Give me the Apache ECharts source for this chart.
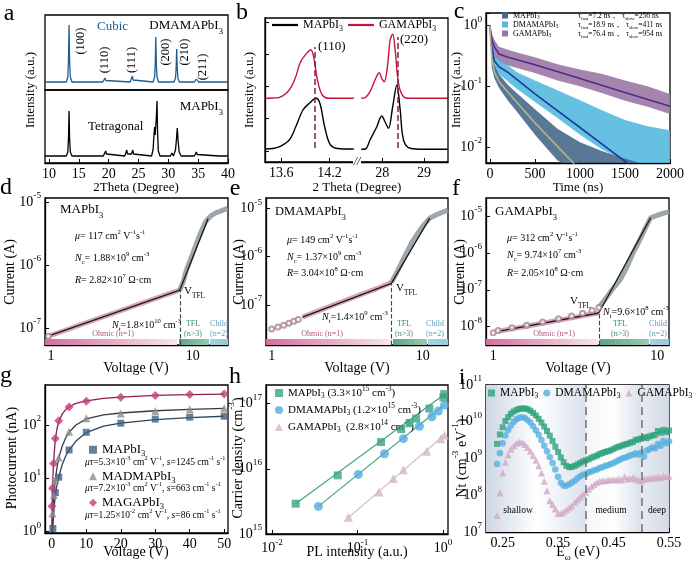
<!DOCTYPE html>
<html><head><meta charset="utf-8">
<script src="https://cdn.jsdelivr.net/npm/echarts@6/dist/echarts.min.js"></script>
<style>html,body{margin:0;padding:0;background:#fff}#c{width:700px;height:561px}</style>
</head><body><div id="c"></div>
<script>
// ---------------- DATA ----------------
const aCubic = [[9.33,0],[12.9,0],[13.15,5],[13.27,22],[13.36,57],[13.45,22],[13.57,5],[13.85,0],[19.0,0],[19.28,1.5],[19.4,4],[19.52,1.5],[19.8,0],[23.6,0],[23.86,2],[23.98,6],[24.1,2],[24.4,0],[27.45,0],[27.7,5],[27.81,18],[27.9,45],[27.99,18],[28.1,5],[28.35,0],[30.95,0],[31.2,4],[31.31,14],[31.4,33],[31.49,14],[31.6,4],[31.85,0],[34.35,0],[34.58,1.2],[34.7,3],[34.82,1.2],[35.05,0],[40,0]];
const aTetra = [[9.33,0],[12.9,0],[13.15,4],[13.27,18],[13.36,45],[13.45,18],[13.57,4],[13.85,0],[19.1,0],[19.38,2],[19.5,5],[19.62,2],[19.9,0],[22.7,0],[22.92,2],[23.04,6],[23.16,2],[23.45,1],[23.82,2],[24.05,6],[24.17,2],[24.45,0],[27.2,0],[27.45,7],[27.58,20],[27.7,29],[27.8,21],[27.9,22],[28.0,40],[28.1,55],[28.2,24],[28.32,5],[28.6,0],[30.35,0],[30.5,1.5],[30.6,3],[30.7,1.5],[30.85,0],[31.0,0],[31.2,6],[31.35,16],[31.5,28],[31.65,14],[31.82,4],[32.15,0],[34.35,0],[34.58,1.5],[34.7,4],[34.82,1.5],[35.05,0],[38.5,0],[38.7,1],[38.9,0],[40,0]];
const aXTicks = [10,15,20,25,30,35,40];
const bMA_L = [[13.4,13],[13.5,13.5],[13.58,15.3],[13.7,22],[13.78,35],[13.87,52],[13.95,58.7],[14.03,63.7],[14.08,58.7],[14.14,35],[14.2,18.7],[14.28,13.7],[14.4,13],[14.5,13]];
const bGA_L = [[13.4,63.7],[13.5,64],[13.58,64.7],[13.7,72],[13.78,85],[13.84,100],[13.93,110],[13.97,112],[14.01,102],[14.05,82],[14.11,67],[14.2,63.7],[14.35,63.7],[14.5,63.7]];
const bMA_R = [[27.5,12.7],[27.6,13],[27.71,22],[27.87,35],[27.99,46],[28.07,40],[28.15,33.7],[28.25,55],[28.35,77],[28.43,52],[28.51,22],[28.67,13.7],[29.0,12.7],[29.57,12.7]];
const bGA_R = [[27.5,63.7],[27.6,64.5],[27.71,70.3],[27.83,82],[27.93,89.3],[27.99,83.7],[28.05,80.3],[28.13,97],[28.19,122],[28.25,127.7],[28.31,112],[28.39,78.7],[28.51,65.3],[28.67,63.7],[29.0,63.7],[29.57,63.7]];
const bXTicksL = [13.6,14.2];
const bXTicksR = [28,29];
const bYTicks = [11,44,76,108,140];
const bRef = [14.02, 28.36];
const cT = [0,20,50,100,200,300,500,750,1000,1250,1500,1750,2000];
const cGA_hi = [1.0,0.75,0.58,0.45,0.40,0.36,0.30,0.23,0.19,0.16,0.125,0.10,0.075];
const cGA_lo = [0.92,0.40,0.31,0.25,0.22,0.20,0.165,0.125,0.10,0.077,0.058,0.046,0.035];
const cDM_hi = [1.0,0.55,0.33,0.27,0.22,0.17,0.125,0.086,0.059,0.040,0.028,0.022,0.019];
const cDM_lo = [0.9,0.30,0.19,0.16,0.12,0.09,0.055,0.030,0.016,0.009,0.006,0.004,0.004];
const cMA_hi = [1.0,0.40,0.22,0.16,0.105,0.077,0.042,0.020,0.012,0.0085,0.0065,0.005,0.004];
const cMA_lo = [0.85,0.20,0.135,0.095,0.058,0.038,0.016,0.006,0.004,0.004,0.004,0.004,0.004];
const cFitT = [0,10,20,50,100,200,500,1000,1500,2000];
const cGA_fit = [1.0,0.75,0.60,0.44,0.34,0.30,0.226,0.134,0.079,0.047];
const cDM_fit = [1.0,0.6,0.45,0.26,0.21,0.17,0.075,0.021,0.0058,0.0016];
const cMA_fit = [1.0,0.5,0.3,0.17,0.12,0.08,0.025,0.0042,0.0007,0.0001];
const cYTicks = [0.01,0.1,1];
const dCircV = [0.96], dCircI = [7.4e-8];
const dOhmV = [0.96,1.2,1.5,2,3,4,5,6,7,8.1];
const dOhmI = [7.4e-8,8.8e-8,1.06e-7,1.33e-7,1.83e-7,2.3e-7,2.75e-7,3.17e-7,3.58e-7,4.0e-7];
const dTflV = [8.1,8.6,9.0,9.8,10.6,11.4,12.2,12.8,13.4,14.5,15.5,16.5,17.6];
const dTflI = [4.0e-7,5.6e-7,8.3e-7,1.35e-6,2.2e-6,3.3e-6,4.7e-6,5.4e-6,6.0e-6,6.7e-6,7.1e-6,7.5e-6,7.9e-6];
const dFitV = [1,8.1,12.8], dFitI = [7.7e-8,4.0e-7,5.4e-6];
const dVtfl = 8.1;
const eCircV = [1.0,1.1,1.2,1.3,1.4,1.5];
const eCircI = [3.2e-8,3.5e-8,3.8e-8,4.2e-8,4.6e-8,5.0e-8];
const eOhmV = [1.6,2,2.5,3,4,5,6.2];
const eOhmI = [5.6e-8,7.4e-8,9.7e-8,1.2e-7,1.7e-7,2.2e-7,2.9e-7];
const eTflV = [6.2,7.0,7.8,8.5,9.3,10.2,11.1,12.5,14.7];
const eTflI = [2.9e-7,6.0e-7,1.2e-6,2.0e-6,3.1e-6,4.6e-6,6.2e-6,7.5e-6,9.2e-6];
const eFitV = [1.6,6.2,11.1], eFitI = [5.6e-8,2.8e-7,6.2e-6];
const eVtfl = 6.2;
const fCircV = [1.0,1.07,1.3,1.6,2.0,2.5,3.0,3.5,4.0,4.4];
const fCircI = [6.8e-9,7.9e-9,9.3e-9,1.1e-8,1.35e-8,1.65e-8,1.95e-8,2.3e-8,2.75e-8,3.3e-8];
const fOhmV = [1.07,1.5,2,2.5,3,3.5,4,4.4];
const fOhmI = [7.5e-9,9.8e-9,1.24e-8,1.49e-8,1.73e-8,1.97e-8,2.2e-8,2.35e-8];
const fTflV = [4.4,4.8,5.3,5.95,6.5,7.17,7.8,8.45,9.1,10.0,11.0,11.8];
const fTflI = [3.3e-8,5.5e-8,1.0e-7,1.9e-7,4.0e-7,1.07e-6,2.2e-6,4.7e-6,8.9e-6,1.05e-5,1.2e-5,1.3e-5];
const fFitV = [1.07,4.4,9.1], fFitI = [7.5e-9,2.35e-8,8.9e-6];
const fVtfl = 4.4;
const gV_MA = [0.3,1,2,5,10,20,30,40,50];
const gI_MA = [1.15,5.4,10.5,34,73,108,129,140,146];
const gV_DM = [0.2,0.6,1,2,5,10,20,30,40,50];
const gI_DM = [2.2,4.9,9.3,24.5,75,134,165,183,198,205];
const gV_GA = [0.05,0.2,0.5,1,2,5,10,20,30,40,50];
const gI_GA = [3.0,6.5,19,56,120,218,280,333,359,373,380];
const gFitV_MA = [0.25,0.4,0.7,1,1.5,2,3,4,5,7,10,15,20,30,40,50];
const gFit_MA = [1.0,1.5,3.0,4.8,7.5,10.5,18,26,34,50,72,95,108,126,138,146];
const gFitV_DM = [0.05,0.2,0.4,0.7,1,1.5,2,3,4,5,7,10,15,20,30,40,50];
const gFit_DM = [1.0,2.0,3.5,6.0,9.3,16,24,40,57,73,100,130,155,168,185,197,205];
const gFitV_GA = [0.02,0.1,0.2,0.4,0.7,1,1.5,2,3,4,5,7,10,15,20,30,40,50];
const gFit_GA = [1.0,3.2,6.5,14,30,52,85,115,160,195,220,255,282,315,333,358,372,380];
const hMA_X = [0.0189,0.0586,0.188,0.323,0.404,0.483,0.691,1.008,1.03];
const hMA_Y = [2.92e15,7.94e15,2.57e16,4.07e16,5.0e16,5.9e16,8.4e16,1.24e17,1.4e17];
const hDM_X = [0.0348,0.102,0.206,0.343,0.528,0.738,0.881,1.035];
const hDM_Y = [2.65e15,8.2e15,1.7e16,2.9e16,4.5e16,6.3e16,7.7e16,9.5e16];
const hGA_X = [0.078,0.178,0.262,0.343,0.644,0.94,1.035];
const hGA_Y = [1.81e15,4.4e15,7.1e15,9.7e15,1.86e16,2.9e16,3.3e16];
const hFitMA_X = [0.0189,1.03], hFitMA_Y = [2.9e15,1.38e17];
const hFitDM_X = [0.0348,1.035], hFitDM_Y = [2.65e15,9.6e16];
const hFitGA_X = [0.078,1.035], hFitGA_Y = [1.78e15,3.3e16];
const iE = [0.240,0.245,0.250,0.255,0.260,0.265,0.270,0.275,0.280,0.285,0.290,0.295,0.300,0.305,0.310,0.315,0.320,0.325,0.330,0.335,0.340,0.345,0.350,0.355,0.360,0.365,0.370,0.375,0.380,0.385,0.390,0.395,0.400,0.405,0.410,0.415,0.420,0.425,0.430,0.435,0.440,0.445,0.450,0.455,0.460,0.465,0.470,0.475,0.480,0.485,0.490,0.495,0.500,0.505,0.510,0.515,0.520,0.525,0.530,0.535,0.540,0.545,0.550];
const iMA = [2.5e9,4.5e9,7.1e9,1.05e10,1.35e10,1.66e10,1.9e10,2.1e10,2.24e10,2.3e10,2.3e10,2.2e10,2.0e10,1.74e10,1.48e10,1.2e10,9.5e9,7.4e9,5.6e9,4.2e9,3.0e9,2.1e9,1.5e9,1.07e9,7.9e8,6.3e8,5.8e8,5.9e8,6.3e8,6.9e8,7.6e8,8.3e8,8.9e8,9.5e8,1.05e9,1.12e9,1.2e9,1.32e9,1.41e9,1.51e9,1.58e9,1.66e9,1.82e9,2.0e9,2.1e9,2.24e9,2.4e9,2.5e9,2.7e9,2.8e9,3.2e9,3.3e9,3.5e9,3.8e9,3.6e9,4.0e9,4.2e9,4.4e9,5.6e9,5.0e9,6.0e9,5.2e9,5.8e9];
const iDM = [7.1e8,1.4e9,2.6e9,4.2e9,6.0e9,7.9e9,1.0e10,1.17e10,1.29e10,1.32e10,1.26e10,1.12e10,9.5e9,7.6e9,5.9e9,4.4e9,3.2e9,2.24e9,1.58e9,1.1e9,7.6e8,5.0e8,3.2e8,2.2e8,1.8e8,1.8e8,2.0e8,2.24e8,2.5e8,2.9e8,3.3e8,3.6e8,3.8e8,4.2e8,4.4e8,4.8e8,5.0e8,5.5e8,5.8e8,6.3e8,6.6e8,7.1e8,7.6e8,8.3e8,9.1e8,1.0e9,1.05e9,1.12e9,1.2e9,1.26e9,1.38e9,1.26e9,1.45e9,1.12e9,1.66e9,1.78e9,2.0e9,1.9e9,2.5e9,2.24e9,3.0e9,2.6e9,2.9e9];
const iGA = [2.8e7,1.15e8,4.0e8,7.9e8,1.26e9,1.78e9,2.24e9,2.6e9,2.8e9,2.75e9,2.4e9,2.0e9,1.58e9,1.2e9,8.9e8,6.3e8,4.0e8,2.4e8,1.32e8,7.1e7,5.6e7,4.2e7,3.2e7,3.2e7,3.5e7,4.0e7,4.6e7,5.2e7,6.3e7,7.6e7,8.9e7,1.05e8,1.2e8,1.45e8,1.74e8,2.0e8,2.24e8,2.4e8,2.5e8,2.5e8,2.6e8,2.6e8,2.7e8,2.6e8,2.75e8,2.6e8,3.2e8,2.75e8,2.9e8,3.0e8,2.75e8,2.6e8,2.5e8,2.75e8,2.8e8,2.9e8,3.0e8,2.95e8,3.2e8,3.0e8,3.3e8,3.2e8,3.3e8];
const iXTicks = [0.25,0.35,0.45,0.55];
const iBounds = [0.40,0.50];

// ---------------- HELPERS ----------------
const F = "'Liberation Serif','Times New Roman',serif";
function R(fs){
  const sm = Math.round(fs*0.66*10)/10;
  return {
    u:{fontSize:sm,fontFamily:F,verticalAlign:'top',lineHeight:Math.round(fs*0.75)},
    s:{fontSize:sm,fontFamily:F,verticalAlign:'bottom',lineHeight:Math.round(fs*1.1)},
    i:{fontSize:fs,fontFamily:F,fontStyle:'italic',lineHeight:Math.round(fs*1.5)}
  };
}
function merge(a,b){
  for (const k in b){
    const v=b[k];
    if (v && typeof v==='object' && !Array.isArray(v) && typeof v!=='function' && a[k] && typeof a[k]==='object' && !Array.isArray(a[k])) merge(a[k],v);
    else a[k]=v;
  }
  return a;
}
const zip=(xs,ys)=>xs.map((x,k)=>[x,ys[k]]);
const isPow10=v=>{const l=Math.log10(v);return Math.abs(l-Math.round(l))<1e-6;};
const grids=[], xAxes=[], yAxes=[], series=[], legends=[], graphics=[];
function ax(o){
  return merge({
    type:'value',
    axisLine:{show:true,onZero:false,lineStyle:{color:'#000',width:1.3}},
    axisTick:{show:true,inside:true,length:4,lineStyle:{color:'#000',width:1}},
    axisLabel:{color:'#000',fontFamily:F,fontSize:14,margin:4},
    splitLine:{show:false}
  },o);
}
function addGrid(g,xo,yo){
  grids.push(merge({show:true,borderColor:'#000',borderWidth:1.3,backgroundColor:'rgba(0,0,0,0)'},g));
  const i=grids.length-1;
  xAxes.push(ax(merge({gridIndex:i,position:'bottom'},xo)));
  yAxes.push(ax(merge({gridIndex:i,position:'left'},yo)));
  return i;
}
function logLbl(showMin,showMax){
  return {formatter:v=>isPow10(v)?'10{u|'+Math.round(Math.log10(v))+'}':'',rich:R(14),lineHeight:21,showMinLabel:showMin,showMaxLabel:showMax};
}
function plainLbl(){ return {formatter:v=>isPow10(v)?String(Math.round(v)):'',showMinLabel:false,showMaxLabel:false}; }
function line(gi,name,data,color,width,extra){
  series.push(merge({type:'line',name:name,xAxisIndex:gi,yAxisIndex:gi,data:data,symbol:'none',silent:true,
    lineStyle:{color:color,width:width},itemStyle:{color:color},z:3},extra||{}));
}
function scat(gi,name,data,symbol,size,color,extra){
  series.push(merge({type:'scatter',name:name,xAxisIndex:gi,yAxisIndex:gi,data:data,symbol:symbol,symbolSize:size,silent:true,
    itemStyle:{color:color},z:4},extra||{}));
}
function band(gi,name,T,hi,lo,color){
  series.push({type:'custom',name:name,xAxisIndex:gi,yAxisIndex:gi,clip:true,silent:true,z:2,
    itemStyle:{color:color},data:[[T[0],hi[0]]],
    renderItem:(p,api)=>{
      const pts=[];
      for(let k=0;k<T.length;k++) pts.push(api.coord([T[k],hi[k]]));
      for(let k=T.length-1;k>=0;k--) pts.push(api.coord([T[k],lo[k]]));
      return {type:'polygon',shape:{points:pts},style:{fill:color,opacity:0.9}};
    }});
}
function T(x,y,text,o){
  o=o||{}; const fs=o.fs||12;
  return {type:'text',x:x,y:y,rotation:o.rot||0,z:100,silent:true,
    style:{text:text,fill:o.color||'#000',fontFamily:F,fontSize:fs,fontStyle:o.italic?'italic':'normal',
      fontWeight:o.bold?'bold':'normal',textAlign:o.align||'left',textVerticalAlign:'middle',
      align:o.align||'left',verticalAlign:'middle',lineHeight:Math.round(fs*1.5),rich:R(fs)}};
}
function rect(x,y,w,h,fill,stroke){
  return {type:'rect',shape:{x:x,y:y,width:w,height:h},z:90,silent:true,
    style:{fill:fill||'none',stroke:stroke||'none',lineWidth:1.3}};
}
const grad=(c0,c1)=>({type:'linear',x:0,y:0,x2:1,y2:0,colorStops:[{offset:0,color:c0},{offset:1,color:c1}]});
const LN = {
  bMA:'MAPbI{s|3}', bGA:'GAMAPbI{s|3}',
  cMA:'MAPbI{s|3}', cDM:'DMAMAPbI{s|3}', cGA:'GAMAPbI{s|3}',
  gMA:'MAPbI{s|3}', gDM:'MADMAPbI{s|3}', gGA:'MAGAPbI{s|3}',
  hMA:'MAPbI{s|3} (3.3×10{u|15} cm{u|-3})', hDM:'DMAMAPbI{s|3} (1.2×10{u|15} cm{u|-3})', hGA:'GAMAPbI{s|3}  (2.8×10{u|14} cm{u|-3})',
  iMA:'MAPbI{s|3}', iDM:'DMAMAPbI{s|3}', iGA:'GAMAPbI{s|3}'
};
function legend(o,fs,lh){
  legends.push(merge({padding:0,selectedMode:false,formatter:n=>LN[n],
    textStyle:{fontFamily:F,fontSize:fs,color:'#000',lineHeight:lh,rich:R(fs)}},o));
}
const ML = {symbol:['none','none'],silent:true,label:{show:false},lineStyle:{type:'dashed',color:'#7b2245',width:1.5}};

// ---------------- PANEL a ----------------
const GA1 = addGrid({left:45,top:15,width:183,height:75},{min:9.33,max:40,axisLabel:{show:false},axisTick:{show:false},axisLine:{show:false}},{min:-8,max:67,show:false});
const GA2 = addGrid({left:45,top:90,width:183,height:73},{min:9.33,max:40,axisLabel:{customValues:aXTicks},axisTick:{customValues:aXTicks}},{min:-7,max:66,show:false});
line(GA1,'aCub',aCubic,'#1d5d92',1.3);
line(GA2,'aTet',aTetra,'#000',1.3);

// ---------------- PANEL b ----------------
const GB1 = addGrid({left:265,top:18,width:92,height:144,show:false},
  {min:13.4,max:14.54,axisLabel:{customValues:bXTicksL},axisTick:{customValues:bXTicksL}},
  {min:0,max:144,axisLabel:{show:false},axisTick:{customValues:bYTicks}});
const GB2 = addGrid({left:357,top:18,width:91,height:144,show:false},
  {min:27.4,max:29.57,axisLabel:{customValues:bXTicksR},axisTick:{customValues:bXTicksR}},
  {min:0,max:144,show:false});
line(GB1,'bMA',bMA_L,'#000',1.4,{smooth:0.35,markLine:merge({data:[[{coord:[bRef[0],14]},{coord:[bRef[0],115]}]]},ML)});
line(GB1,'bGA',bGA_L,'#c8143c',1.4,{smooth:0.35});
line(GB2,'bMA_r',bMA_R,'#000',1.4,{smooth:0.35,markLine:merge({data:[[{coord:[bRef[1],14]},{coord:[bRef[1],125]}]]},ML)});
line(GB2,'bGA_r',bGA_R,'#c8143c',1.4,{smooth:0.35});
legend({left:272,top:17,icon:'rect',itemWidth:26,itemHeight:2.2,itemGap:5,data:['bMA','bGA']},12,16);

// ---------------- PANEL c ----------------
const GC = addGrid({left:486,top:13,width:184,height:150},{min:-44,max:2000,axisLabel:{showMinLabel:false,formatter:v=>v<0?'':String(v)}},
  {type:'log',min:0.00547,max:1.61,axisLabel:{show:false}});
band(GC,'cGA',cT,cGA_hi,cGA_lo,'#9b77a5');
band(GC,'cDM',cT,cDM_hi,cDM_lo,'#55b9df');
band(GC,'cMA',cT,cMA_hi,cMA_lo,'#47698a');
line(GC,'cGAfit',zip(cFitT,cGA_fit),'#55288a',1.6);
line(GC,'cDMfit',zip(cFitT,cDM_fit),'#1a3c9c',1.6);
line(GC,'cMAfit',zip(cFitT,cMA_fit),'#b3b48c',1.6);
legend({left:502,top:11,orient:'vertical',icon:'rect',itemWidth:6,itemHeight:6,itemGap:0,data:['cMA','cDM','cGA']},8,9);

// ---------------- PANELS d,e,f ----------------
const PINK='rgba(206,142,172,0.8)', GRAY='rgba(140,150,156,0.85)';
function sclc(gi,p,circ,ohm,tfl,fit,vt,ybot){
  line(gi,p+'ohm',ohm,PINK,5,{z:2});
  line(gi,p+'tfl',tfl,GRAY,5,{z:2});
  scat(gi,p+'circ',circ,'emptyCircle',5,'#a88596',{itemStyle:{borderWidth:1}});
  line(gi,p+'fit',fit,'#1a1a1a',1.3,{markLine:{data:[[{coord:[vt,ybot]},{coord:[vt,fit[1][1]]}]],
    symbol:['none','none'],silent:true,label:{show:false},lineStyle:{type:'dashed',color:'#2d4a44',width:1.1}}});
}
const GD = addGrid({left:45,top:198,width:183,height:147},{type:'log',min:0.908,max:17.7,axisLabel:plainLbl()},
  {type:'log',min:5.37e-8,max:1.156e-5,axisLabel:logLbl(false,false)});
sclc(GD,'d',zip(dCircV,dCircI),zip(dOhmV,dOhmI),zip(dTflV,dTflI),zip(dFitV,dFitI),dVtfl,5.37e-8);
const GE = addGrid({left:266,top:198,width:182,height:147},{type:'log',min:0.917,max:14.7,axisLabel:plainLbl()},
  {type:'log',min:1.49e-8,max:1.63e-5,axisLabel:logLbl(false,false)});
sclc(GE,'e',zip(eCircV,eCircI),zip(eOhmV,eOhmI),zip(eTflV,eTflI),zip(eFitV,eFitI),eVtfl,1.49e-8);
const GF = addGrid({left:486,top:198,width:183,height:147},{type:'log',min:0.903,max:11.78,axisLabel:plainLbl()},
  {type:'log',min:3.19e-9,max:3.08e-5,axisLabel:logLbl(false,false)});
sclc(GF,'f',zip(fCircV,fCircI),zip(fOhmV,fOhmI),zip(fTflV,fTflI),zip(fFitV,fFitI),fVtfl,3.19e-9);

// ---------------- PANEL g ----------------
const GG = addGrid({left:45,top:385,width:183,height:148},{min:-1.98,max:51.1,axisLabel:{showMinLabel:false,showMaxLabel:false}},
  {type:'log',min:0.946,max:562,axisLabel:logLbl(false,false)});
line(GG,'gMAfit',zip(gFitV_MA,gFit_MA),'#29465f',1.3);
line(GG,'gDMfit',zip(gFitV_DM,gFit_DM),'#3a3a3a',1.3);
line(GG,'gGAfit',zip(gFitV_GA,gFit_GA),'#8e1c50',1.3);
scat(GG,'gMA',zip(gV_MA,gI_MA),'rect',7,'#3f6283');
scat(GG,'gDM',zip(gV_DM,gI_DM),'triangle',8,'#8d8d8d');
scat(GG,'gGA',zip(gV_GA,gI_GA),'diamond',9,'#c33d7a');
legend({left:89,top:441,orient:'vertical',itemWidth:8,itemHeight:8,itemGap:9,data:['gMA','gDM','gGA']},13,17.5);

// ---------------- PANEL h ----------------
const GH = addGrid({left:266,top:385,width:182,height:149},{type:'log',min:0.0085,max:1.14,axisLabel:logLbl(false,false)},
  {type:'log',min:1e15,max:1.93e17,axisLabel:logLbl(true,false)});
line(GH,'hMAfit',zip(hFitMA_X,hFitMA_Y),'#45a48a',1.2);
line(GH,'hDMfit',zip(hFitDM_X,hFitDM_Y),'#45a48a',1.2);
line(GH,'hGAfit',zip(hFitGA_X,hFitGA_Y),'#d6bfcd',1.2);
scat(GH,'hMA',zip(hMA_X,hMA_Y),'rect',8,'#3aa37f');
scat(GH,'hDM',zip(hDM_X,hDM_Y),'circle',9,'#52aade');
scat(GH,'hGA',zip(hGA_X,hGA_Y),'triangle',9,'#d3b5c7');
legend({left:275,top:386,orient:'vertical',itemWidth:8,itemHeight:8,itemGap:3,data:['hMA','hDM','hGA']},11,14);

// ---------------- PANEL i ----------------
const GI = addGrid({left:486,top:385,width:183,height:147},
  {min:0.22,max:0.55,axisLabel:{customValues:iXTicks,formatter:v=>v.toFixed(2)},axisTick:{customValues:iXTicks}},
  {type:'log',min:1e7,max:1e11,axisLabel:logLbl(true,true)});
series.push({type:'line',name:'iBg',xAxisIndex:GI,yAxisIndex:GI,data:[],silent:true,z:1,
  markArea:{silent:true,data:[
    [{xAxis:0.22,itemStyle:{color:{type:'linear',x:0,y:0,x2:1,y2:0,colorStops:[{offset:0,color:'#cdd6e4'},{offset:0.5,color:'#ffffff'},{offset:1,color:'#dbe2ec'}]}}},{xAxis:iBounds[0]}],
    [{xAxis:iBounds[0],itemStyle:{color:{type:'linear',x:0,y:0,x2:1,y2:0,colorStops:[{offset:0,color:'#f4f6f9'},{offset:0.5,color:'#ffffff'},{offset:1,color:'#d9e0ea'}]}}},{xAxis:iBounds[1]}],
    [{xAxis:iBounds[1],itemStyle:{color:{type:'linear',x:0,y:0,x2:1,y2:0,colorStops:[{offset:0,color:'#e6ebf1'},{offset:1,color:'#d3dbe6'}]}}},{xAxis:0.55}]
  ]},
  markLine:{symbol:['none','none'],silent:true,label:{show:false},lineStyle:{type:[8,5],color:'#6e6e6e',width:1.5},
    data:[{xAxis:iBounds[0]},{xAxis:iBounds[1]}]}});
scat(GI,'iGA',zip(iE,iGA),'triangle',7,'#d2a9c6');
scat(GI,'iDM',zip(iE,iDM),'circle',6.5,'#56b0e0');
scat(GI,'iMA',zip(iE,iMA),'rect',6,'#2ea27c');
legend({left:488,top:386,itemWidth:7,itemHeight:7,itemGap:5,data:['iMA','iDM','iGA']},11.5,14);

// ---------------- GRAPHICS ----------------
const G = graphics;
const rot = Math.PI/2;
[['a',9,14],['b',242,13],['c',459,12],['d',6,188],['e',235,189],['f',456,189],['g',6,376],['h',235,377],['i',462,378]]
  .forEach(l=>G.push(T(l[1],l[2],l[0],{fs:24,align:'center'})));
G.push(T(136,188,'2Theta (Degree)',{align:'center',fs:13}));
G.push(T(357,188,'2 Theta (Degree)',{align:'center',fs:13}));
G.push(T(578,188,'Time (ns)',{align:'center',fs:13}));
G.push(T(31,90,'Intensity (a.u.)',{align:'center',rot:rot,fs:13}));
G.push(T(250,90,'Intensity (a.u.)',{align:'center',rot:rot,fs:13}));
G.push(T(457,90,'Intensity (a.u.)',{align:'center',rot:rot,fs:13}));
G.push(T(136,368,'Voltage (V)',{align:'center',fs:14}));
G.push(T(357,368,'Voltage (V)',{align:'center',fs:14}));
G.push(T(578,368,'Voltage (V)',{align:'center',fs:14}));
G.push(T(10,272,'Current (A)',{align:'center',rot:rot,fs:14}));
G.push(T(239,272,'Current (A)',{align:'center',rot:rot,fs:14}));
G.push(T(460,272,'Current (A)',{align:'center',rot:rot,fs:14}));
G.push(T(136,552,'Voltage (V)',{align:'center',fs:14}));
G.push(T(357,552,'PL intensity (a.u.)',{align:'center',fs:14}));
G.push(T(578,552,'E{s|ω} (eV)',{align:'center',fs:14}));
G.push(T(12,458,'Photocurrent (nA)',{align:'center',rot:rot,fs:14}));
G.push(T(238,458,'Carrier density (cm{u|-3})',{align:'center',rot:rot,fs:14}));
G.push(T(462,458,'Nt (cm{u|-3} eV{u|-1})',{align:'center',rot:rot,fs:14}));
G.push(T(97,27,'Cubic',{color:'#1d5d92',fs:13}));
G.push(T(223,26,'DMAMAPbI{s|3}',{align:'right',fs:13}));
G.push(T(223,107,'MAPbI{s|3}',{align:'right',fs:13}));
G.push(T(88,127,'Tetragonal',{fs:13}));
[['(100)',81,41],['(110)',105,60],['(111)',132,60],['(200)',166,52],['(210)',185,52],['(211)',203,67]]
  .forEach(m=>G.push(T(m[1],m[2],m[0],{rot:rot,align:'center',fs:12.5})));
G.push(rect(265,18,183,144,'none','#000'));
G.push(T(318,47,'(110)',{fs:13}));
G.push(T(400,40,'(220)',{fs:13}));
G.push(merge(rect(353,158,8,8,'#fff','none'),{z:101}));
G.push(merge(T(357,162,'//',{align:'center',fs:12,italic:true}),{z:102}));
G.push(T(578,16,'τ{s|fast}=7.2 ns，  τ{s|slow}=256 ns',{fs:7.5}));
G.push(T(578,25,'τ{s|fast}=18.9 ns，  τ{s|slow}=411 ns',{fs:7.5}));
G.push(T(578,34,'τ{s|fast}=76.4 ns，  τ{s|slow}=954 ns',{fs:7.5}));
const PK='#b4547f', GR='#3f8a6a', BL='#5d9cb5';
function strips(x0,x1,x2,x3){
  G.push(merge(rect(x0,339,x1-x0-2,6,grad('#d36f9c','#f7e6ee')),{z:5}));
  G.push(merge(rect(x1,339,x2-x1-1,6,grad('#5ea584','#9cc9b4')),{z:5}));
  G.push(merge(rect(x2,339,x3-x2,6,grad('#a9d3e2','#98c9da')),{z:5}));
}
strips(45,179,210,228); strips(266,393,428,448); strips(486,600,650,669);
function regionLabels(xo,xt,xc){
  G.push(T(xo,334,'Ohmic (n=1)',{fs:8,color:PK,align:'center'}));
  G.push(T(xt,324,'TFL',{fs:8,color:GR,align:'center'}));
  G.push(T(xt,334,'(n>3)',{fs:8,color:GR,align:'center'}));
  G.push(T(xc,324,'Child',{fs:8,color:BL,align:'center'}));
  G.push(T(xc,334,'(n=2)',{fs:8,color:BL,align:'center'}));
}
regionLabels(113,193,219); regionLabels(322,404,435); regionLabels(554,620,658);
G.push(T(60,210,'MAPbI{s|3}',{fs:13}));
G.push(T(75,236,'{i|μ}= 117 cm{u|2} V{u|-1}s{u|-1}',{fs:10}));
G.push(T(75,258,'{i|N}{s|c}= 1.88×10{u|9} cm{u|-3}',{fs:10}));
G.push(T(75,280,'{i|R}= 2.82×10{u|7} Ω·cm',{fs:10}));
G.push(T(184,291,'V{s|TFL}',{fs:11}));
G.push(T(112,325,'{i|N}{s|t}=1.8×10{u|10} cm{u|-3}',{fs:10}));
G.push(T(275,212,'DMAMAPbI{s|3}',{fs:12.5}));
G.push(T(287,240,'{i|μ}= 149 cm{u|2} V{u|-1}s{u|-1}',{fs:10}));
G.push(T(287,257,'{i|N}{s|c}= 1.37×10{u|9} cm{u|-3}',{fs:10}));
G.push(T(287,273,'{i|R}= 3.04×10{u|8} Ω·cm',{fs:10}));
G.push(T(396,288,'V{s|TFL}',{fs:11}));
G.push(T(322,317,'{i|N}{s|t}=1.4×10{u|9} cm{u|-3}',{fs:10}));
G.push(T(495,212,'GAMAPbI{s|3}',{fs:13}));
G.push(T(507,238,'{i|μ}= 312 cm{u|2} V{u|-1}s{u|-1}',{fs:10}));
G.push(T(507,255,'{i|N}{s|c}= 9.74×10{u|7} cm{u|-3}',{fs:10}));
G.push(T(507,273,'{i|R}= 2.05×10{u|8} Ω·cm',{fs:10}));
G.push(T(570,301,'V{s|TFL}',{fs:11}));
G.push(T(603,312,'{i|N}{s|t}=9.6×10{u|8} cm{u|-3}',{fs:10}));
G.push(T(85,462,'{i|μτ}=5.3×10{u|-3} cm{u|2} V{u|-1}, {i|s}=1245 cm{u|-1} s{u|-1}',{fs:9.5}));
G.push(T(85,488,'{i|μτ}=7.2×10{u|-3} cm{u|2} V{u|-1}, {i|s}=663 cm{u|-1} s{u|-1}',{fs:9.5}));
G.push(T(85,515,'{i|μτ}=1.25×10{u|-2} cm{u|2} V{u|-1}, {i|s}=86 cm{u|-1} s{u|-1}',{fs:9.5}));
G.push(T(518,510,'shallow',{fs:9.5,align:'center'}));
G.push(T(611,510,'medium',{fs:9.5,align:'center'}));
G.push(T(657,510,'deep',{fs:9.5,align:'center'}));

const chart = echarts.init(document.getElementById('c'),null,{renderer:'canvas'});
chart.setOption({animation:false,backgroundColor:'#fff',grid:grids,xAxis:xAxes,yAxis:yAxes,series:series,legend:legends,graphic:{elements:graphics}});
// panel c: decade tick labels placed through the chart's own log scale
const cLabels = cYTicks.map(v=>{
  const p = chart.convertToPixel({gridIndex:GC},[0,v]);
  return T(482,p[1],'10{u|'+Math.round(Math.log10(v))+'}',{fs:14,align:'right'});
});
chart.setOption({graphic:{elements:graphics.concat(cLabels)}});
</script></body></html>
